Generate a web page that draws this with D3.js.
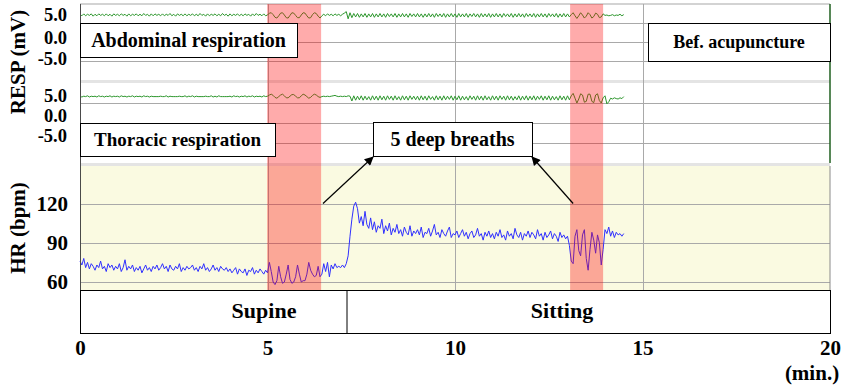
<!DOCTYPE html>
<html>
<head>
<meta charset="utf-8">
<script src="https://cdn.jsdelivr.net/npm/d3@7"></script>
<style>
body { margin: 0; background: #fff; }
svg { display: block; }
</style>
</head>
<body>
<div id="chart"></div>
<script>
// samples every 0.05 min, starting at 0
var step = 0.05;

var hr = [
    76, 73, 78, 71, 75, 70, 74, 72, 69, 73, 71, 76, 70, 72, 68, 74, 71, 73, 69, 72,
    70, 74, 68, 71, 77, 69, 72, 70, 73, 68, 71, 69, 72, 67, 70, 73, 69, 71, 68, 72,
    70, 73, 69, 71, 74, 70, 72, 68, 73, 70, 69, 72, 70, 74, 68, 71, 69, 72, 70, 71,
    73, 69, 71, 68, 72, 70, 74, 69, 71, 68, 70, 73, 69, 71, 68, 72, 70, 69, 71, 68,
    70, 67, 69, 71, 66, 70, 68, 67, 70, 65, 69, 68, 71, 66, 69, 67, 70, 68, 66, 69,
    67, 75, 68, 60, 58, 61, 72, 64, 59, 60, 66, 73, 62, 59, 60, 64, 73, 66, 60, 61,
    61, 66, 75, 69, 66, 64, 65, 72, 64, 66, 74, 68, 75, 64, 73, 70, 74, 71, 72, 71,
    73, 71, 74, 80, 95, 108, 118, 121, 116, 105, 110, 103, 114, 104, 101, 109, 100, 106, 98, 103,
    101, 108, 97, 103, 99, 105, 96, 101, 98, 104, 97, 100, 95, 102, 98, 96, 103, 95, 99, 97,
    100, 96, 102, 94, 98, 97, 101, 95, 99, 104, 96, 98, 94, 100, 97, 95, 99, 102, 94, 97,
    96, 99, 94, 97, 100, 95, 98, 93, 97, 99, 94, 96, 101, 95, 97, 92, 98, 95, 99, 94,
    97, 93, 98, 95, 100, 94, 96, 92, 99, 95, 97, 93, 101, 96, 94, 98, 92, 97, 95, 99,
    94, 98, 96, 93, 100, 95, 97, 92, 98, 94, 96, 99, 93, 97, 95, 91, 98, 94, 96, 93,
    95, 88, 76, 74, 95, 100, 84, 80, 96, 100, 78, 69, 85, 98, 92, 82, 96, 90, 73, 85,
    100, 97, 102, 95, 99, 94, 98, 96, 97, 95, 97
];

var abdominal = [
    7.3, 6.9, 7.4, 6.9, 7.3, 7.0, 7.4, 6.8, 7.3, 6.9, 7.4, 7.0, 7.3, 6.9, 7.4, 6.9, 7.3, 6.8, 7.4, 7.0,
    7.3, 6.9, 7.4, 7.0, 7.3, 6.8, 7.4, 6.9, 7.3, 7.0, 7.4, 6.9, 7.3, 6.9, 7.5, 7.0, 7.3, 6.8, 7.4, 6.9,
    7.4, 7.0, 7.3, 6.9, 7.4, 6.9, 7.3, 7.0, 7.5, 6.9, 7.3, 6.8, 7.4, 7.0, 7.3, 6.9, 7.4, 6.9, 7.3, 7.0,
    7.4, 6.9, 7.3, 6.9, 7.5, 7.0, 7.3, 6.8, 7.4, 6.9, 7.3, 7.0, 7.4, 6.9, 7.3, 6.9, 7.5, 7.0, 7.3, 6.8,
    7.4, 6.9, 7.3, 7.0, 7.4, 6.9, 7.3, 6.9, 7.4, 7.0, 7.3, 6.8, 7.4, 6.9, 7.5, 7.0, 7.3, 6.9, 7.4, 6.9,
    7.1, 7.6, 7.7, 7.2, 6.5, 6.3, 6.9, 7.6, 7.7, 7.1, 6.4, 6.3, 7.0, 7.7, 7.6, 7.0, 6.4, 6.4, 7.1, 7.7,
    7.6, 6.9, 6.3, 6.4, 7.2, 7.7, 7.5, 6.8, 6.3, 6.9, 7.3, 6.9, 7.4, 7.0, 7.3, 6.9, 7.4, 7.0, 7.3, 6.9,
    7.3, 7.6, 8.0, 6.1, 7.7, 6.4, 7.5, 6.6, 7.5, 6.5, 7.4, 6.6, 7.5, 6.5, 7.4, 6.6, 7.5, 6.5, 7.4, 6.6,
    7.5, 6.6, 7.4, 6.5, 7.5, 6.7, 7.4, 6.6, 7.5, 6.5, 7.4, 6.6, 7.5, 6.6, 7.4, 6.5, 7.5, 6.7, 7.4, 6.6,
    7.5, 6.6, 7.4, 6.5, 7.4, 6.6, 7.5, 6.6, 7.4, 6.5, 7.5, 6.7, 7.4, 6.6, 7.5, 6.5, 7.4, 6.6, 7.5, 6.6,
    7.4, 6.5, 7.5, 6.6, 7.4, 6.6, 7.5, 6.5, 7.4, 6.7, 7.5, 6.6, 7.4, 6.5, 7.5, 6.6, 7.4, 6.6, 7.5, 6.5,
    7.4, 6.6, 7.5, 6.6, 7.4, 6.5, 7.5, 6.7, 7.4, 6.6, 7.5, 6.5, 7.4, 6.6, 7.5, 6.6, 7.4, 6.5, 7.5, 6.7,
    7.4, 6.6, 7.5, 6.5, 7.4, 6.6, 7.5, 6.6, 7.4, 6.5, 7.5, 6.7, 7.4, 6.6, 7.5, 6.5, 7.4, 6.6, 7.5, 6.6,
    7.4, 6.6, 7.2, 7.7, 6.9, 6.2, 6.9, 7.7, 7.1, 6.3, 6.8, 7.7, 7.2, 6.3, 6.7, 7.6, 7.3, 6.4, 6.6, 7.4,
    7.0, 7.1, 6.9, 7.0, 7.2, 6.9, 7.1, 7.0, 7.3, 6.9, 7.2
];

var thoracic = [
    6.7, 6.5, 6.7, 6.6, 6.8, 6.5, 6.7, 6.6, 6.7, 6.5, 6.8, 6.6, 6.7, 6.5, 6.7, 6.6, 6.8, 6.5, 6.7, 6.6,
    6.7, 6.5, 6.8, 6.6, 6.7, 6.5, 6.7, 6.6, 6.8, 6.5, 6.7, 6.6, 6.7, 6.5, 6.8, 6.6, 6.7, 6.5, 6.7, 6.6,
    6.6, 6.6, 6.6, 6.7, 6.6, 6.6, 6.8, 6.5, 6.7, 6.6, 6.6, 6.6, 6.6, 6.7, 6.6, 6.6, 6.8, 6.5, 6.7, 6.6,
    6.8, 6.5, 6.7, 6.6, 6.6, 6.6, 6.6, 6.7, 6.6, 6.6, 6.8, 6.5, 6.7, 6.5, 6.8, 6.6, 6.6, 6.6, 6.6, 6.6,
    6.7, 6.5, 6.8, 6.6, 6.7, 6.5, 6.7, 6.6, 6.8, 6.5, 6.7, 6.6, 6.8, 6.5, 6.7, 6.6, 6.7, 6.5, 6.8, 6.6,
    6.7, 7.0, 7.2, 6.9, 6.4, 6.2, 6.6, 7.0, 7.2, 6.8, 6.3, 6.3, 6.7, 7.1, 7.1, 6.7, 6.3, 6.3, 6.8, 7.2,
    7.0, 6.6, 6.2, 6.4, 6.9, 7.2, 7.0, 6.6, 6.4, 6.6, 6.7, 6.6, 6.7, 6.6, 6.7, 6.8, 6.9, 6.7, 6.6, 6.7,
    6.6, 6.7, 6.6, 6.8, 6.7, 5.5, 6.8, 5.7, 6.7, 5.8, 6.8, 5.7, 6.7, 5.8, 6.6, 5.7, 6.8, 5.8, 6.7, 5.7,
    6.8, 5.8, 6.7, 5.7, 6.8, 5.9, 6.7, 5.7, 6.8, 5.8, 6.6, 5.7, 6.8, 5.8, 6.7, 5.7, 6.8, 5.9, 6.7, 5.8,
    6.7, 5.7, 6.8, 5.8, 6.7, 5.7, 6.8, 5.9, 6.6, 5.7, 6.8, 5.8, 6.7, 5.7, 6.8, 5.8, 6.7, 5.9, 6.8, 5.7,
    6.7, 5.8, 6.8, 5.7, 6.7, 5.8, 6.6, 5.7, 6.8, 5.9, 6.7, 5.7, 6.8, 5.8, 6.7, 5.7, 6.8, 5.8, 6.6, 5.7,
    6.8, 5.8, 6.7, 5.7, 6.8, 5.9, 6.7, 5.7, 6.8, 5.8, 6.7, 5.7, 6.6, 5.8, 6.8, 5.7, 6.7, 5.8, 6.8, 5.7,
    6.7, 5.8, 6.8, 5.7, 6.7, 5.9, 6.8, 5.7, 6.7, 5.8, 6.8, 5.7, 6.7, 5.8, 6.6, 5.7, 6.8, 5.8, 6.7, 5.7,
    6.8, 5.8, 6.8, 7.4, 6.2, 5.0, 6.0, 7.3, 7.0, 5.2, 5.4, 7.2, 7.2, 5.4, 5.1, 7.0, 7.3, 5.6, 5.0, 6.3,
    6.8, 4.8, 5.3, 6.2, 6.0, 6.3, 6.1, 6.0, 6.3, 6.1, 6.6
];

var timeTicks = [0, 5, 10, 15, 20];
var respTicks = [5, 0, -5];
var hrTicks = [60, 90, 120];
var deepBreaths = [[4.99, 6.43], [13.07, 13.95]];
var postureNames = ['Supine', 'Sitting'];
var postureBounds = [0, 7.12, 20];

var width = 852, height = 388;
var serif = '"Liberation Serif", "DejaVu Serif", serif';

var x = d3.scaleLinear().domain([0, 20]).range([80, 830]);
var yAbd = d3.scaleLinear().domain([10, -10]).range([4, 80]);
var yTho = d3.scaleLinear().domain([10, -10]).range([83, 163]);
var yHr = d3.scaleLinear().domain([60, 120]).range([282, 203.5]);
var hrTop = 166, hrBottom = 290;

// the RESP labels sit a little above their grid lines
var labelAbd = d3.scaleLinear().domain([5, 0, -5]).range([15, 38, 59]);
var labelTho = d3.scaleLinear().domain([5, 0, -5]).range([96, 116, 136]);

var svg = d3.select('#chart')
    .append('svg')
        .attr('width', width)
        .attr('height', height)
        .attr('font-family', serif);

svg.append('rect').attr('width', width).attr('height', height).attr('fill', '#fff');

// panel backgrounds
svg.append('rect')
    .attr('x', x(0)).attr('y', hrTop)
    .attr('width', x(20) - x(0)).attr('height', hrBottom - hrTop)
    .attr('fill', '#fafae1');
[[80, 83], [163, 166]].forEach(function(g) {
    svg.append('rect')
        .attr('x', x(0)).attr('y', g[0])
        .attr('width', x(20) - x(0)).attr('height', g[1] - g[0])
        .attr('fill', '#e4e4e4');
});
svg.append('line')
    .attr('x1', x(0)).attr('x2', x(20)).attr('y1', 4).attr('y2', 4)
    .attr('stroke', '#c4c4c4').attr('stroke-width', 1.5);

// horizontal grid
var grid = svg.append('g').attr('stroke', '#a9a9a9').attr('stroke-width', 1);
respTicks.forEach(function(v) {
    [yAbd, yTho].forEach(function(s) {
        grid.append('line')
            .attr('x1', x(0)).attr('x2', x(20))
            .attr('y1', Math.round(s(v)) + 0.5).attr('y2', Math.round(s(v)) + 0.5);
    });
});
hrTicks.forEach(function(v) {
    grid.append('line')
        .attr('x1', x(0)).attr('x2', x(20))
        .attr('y1', Math.round(yHr(v)) + 0.5).attr('y2', Math.round(yHr(v)) + 0.5);
});
// vertical grid
[5, 10, 15].forEach(function(t) {
    grid.append('line')
        .attr('x1', Math.round(x(t)) + 0.5).attr('x2', Math.round(x(t)) + 0.5)
        .attr('y1', 4).attr('y2', hrBottom);
});

// traces
function series(values) {
    return values.map(function(v, i) { return [i * step, v]; });
}
function trace(values, yScale, color) {
    var line = d3.line()
        .x(function(d) { return x(d[0]); })
        .y(function(d) { return yScale(d[1]); });
    svg.append('path')
        .attr('d', line(series(values)))
        .attr('fill', 'none')
        .attr('stroke', color)
        .attr('stroke-width', 1)
        .attr('stroke-linejoin', 'round');
}
trace(abdominal, yAbd, '#2c962c');
trace(thoracic, yTho, '#2c962c');
trace(hr, yHr, '#3030ff');

// deep breath bands
svg.selectAll('.band')
    .data(deepBreaths)
    .enter().append('rect')
        .attr('class', 'band')
        .attr('x', function(d) { return x(d[0]); })
        .attr('y', 4)
        .attr('width', function(d) { return x(d[1]) - x(d[0]); })
        .attr('height', hrBottom - 4)
        .attr('fill', '#ff0000')
        .attr('fill-opacity', 0.33);

// frame lines
svg.append('line')
    .attr('x1', 80.5).attr('x2', 80.5).attr('y1', 4).attr('y2', hrBottom)
    .attr('stroke', '#4a4a4a').attr('stroke-width', 1);
svg.append('line')
    .attr('x1', 830).attr('x2', 830).attr('y1', 4).attr('y2', 163)
    .attr('stroke', '#1f5f1f').attr('stroke-width', 1.5);
svg.append('line')
    .attr('x1', 830).attr('x2', 830).attr('y1', hrTop).attr('y2', hrBottom)
    .attr('stroke', '#8a8a8a').attr('stroke-width', 1);

// note boxes
function note(text, size, x0, y0, x1, y1) {
    svg.append('rect')
        .attr('x', x0 + 0.5).attr('y', y0 + 0.5)
        .attr('width', x1 - x0).attr('height', y1 - y0)
        .attr('fill', '#fff').attr('stroke', '#000').attr('stroke-width', 1);
    svg.append('text')
        .attr('x', (x0 + x1) / 2).attr('y', (y0 + y1) / 2)
        .attr('dy', '0.35em')
        .attr('text-anchor', 'middle')
        .attr('font-weight', 'bold')
        .attr('font-size', size + 'px')
        .text(text);
}
note('Abdominal respiration', 20, 80, 23, 297, 57);
note('Bef. acupuncture', 18, 648, 23, 830, 61);
note('Thoracic respiration', 19, 80, 123, 275, 156);
note('5 deep breaths', 20, 373, 122, 532, 156);

// arrows
svg.append('defs').append('marker')
    .attr('id', 'head')
    .attr('viewBox', '0 0 10 10')
    .attr('refX', 9).attr('refY', 5)
    .attr('markerWidth', 11).attr('markerHeight', 9)
    .attr('markerUnits', 'userSpaceOnUse')
    .attr('orient', 'auto')
    .append('path').attr('d', 'M0,0L10,5L0,10Z').attr('fill', '#000');
[[6.48, 373], [13.15, 532]].forEach(function(a) {
    svg.append('line')
        .attr('x1', x(a[0])).attr('y1', yHr(120))
        .attr('x2', a[1]).attr('y2', 157)
        .attr('stroke', '#000').attr('stroke-width', 1.2)
        .attr('marker-end', 'url(#head)');
});

// posture box
svg.append('rect')
    .attr('x', x(0) + 0.5).attr('y', hrBottom + 0.5)
    .attr('width', x(20) - x(0)).attr('height', 43)
    .attr('fill', '#fff').attr('stroke', '#000').attr('stroke-width', 1);
svg.append('line')
    .attr('x1', x(postureBounds[1])).attr('x2', x(postureBounds[1]))
    .attr('y1', hrBottom).attr('y2', hrBottom + 43)
    .attr('stroke', '#000');
var postureX = [264, 562];
postureNames.forEach(function(n, i) {
    svg.append('text')
        .attr('x', postureX[i]).attr('y', 310)
        .attr('dy', '0.35em')
        .attr('text-anchor', 'middle')
        .attr('font-weight', 'bold')
        .attr('font-size', '22px')
        .text(n);
});

// axes
function styleAxis(size) {
    return function(g) {
        g.attr('font-family', serif).attr('font-size', null);
        g.select('.domain').remove();
        g.selectAll('.tick line').remove();
        g.selectAll('text')
            .attr('font-weight', 'bold')
            .attr('font-size', size + 'px')
            .attr('fill', '#000');
    };
}
var respFmt = function(d) { return d.toFixed(1); };
svg.append('g')
    .attr('transform', 'translate(67,0)')
    .call(d3.axisLeft(labelAbd).tickValues(respTicks).tickFormat(respFmt).tickSize(0).tickPadding(0))
    .call(styleAxis(18.5));
svg.append('g')
    .attr('transform', 'translate(67,0)')
    .call(d3.axisLeft(labelTho).tickValues(respTicks).tickFormat(respFmt).tickSize(0).tickPadding(0))
    .call(styleAxis(18.5));
svg.append('g')
    .attr('transform', 'translate(68,0)')
    .call(d3.axisLeft(yHr).tickValues(hrTicks).tickSize(0).tickPadding(0))
    .call(styleAxis(21));
svg.append('g')
    .attr('transform', 'translate(0,334)')
    .call(d3.axisBottom(x).tickValues(timeTicks).tickSize(0).tickPadding(6))
    .call(styleAxis(21));

svg.append('text')
    .attr('x', 812).attr('y', 373).attr('dy', '0.35em')
    .attr('text-anchor', 'middle')
    .attr('font-weight', 'bold').attr('font-size', '21px')
    .text('(min.)');

svg.append('text')
    .attr('transform', 'translate(25,62) rotate(-90)')
    .attr('text-anchor', 'middle')
    .attr('font-weight', 'bold').attr('font-size', '21px')
    .text('RESP (mV)');
svg.append('text')
    .attr('transform', 'translate(25,228) rotate(-90)')
    .attr('text-anchor', 'middle')
    .attr('font-weight', 'bold').attr('font-size', '21px')
    .text('HR (bpm)');
</script>
</body>
</html>
